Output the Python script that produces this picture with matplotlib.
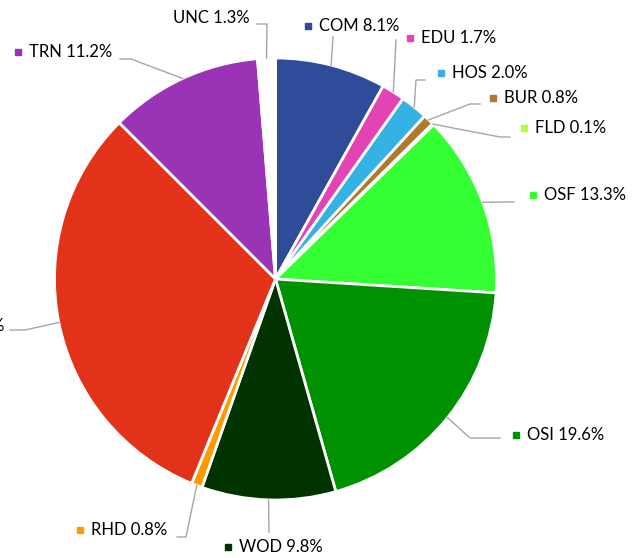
import matplotlib
matplotlib.use("Agg")
import matplotlib.pyplot as plt
import numpy as np

# data (clockwise from 12 o'clock)
codes = ["COM", "EDU", "HOS", "BUR", "FLD", "OSF", "OSI", "WOD", "RHD", "RES", "TRN", "UNC"]
shares = [8.1, 1.7, 2.0, 0.8, 0.1, 13.3, 19.6, 9.8, 0.8, 31.3, 11.2, 1.3]
colors = ["#2F4C9B", "#E443B4", "#33B2E3", "#B07A2E", "#B4FF33", "#33FF33",
          "#009100", "#003300", "#FF9A00", "#E2321A", "#9B33B6", "#FFFFFF"]

W, H = 640, 558
CX, CY, R = 275.5, 279, 221

# label layout in pixel coords: marker x, text y, leader elbow points
label_pos = {
    "COM": (308, 26, [(333, 37)]),
    "EDU": (410, 38, [(396, 40)]),
    "HOS": (441, 73, [(416, 80), (425, 80)]),
    "BUR": (493, 98, [(470, 104), (480, 104)]),
    "FLD": (524, 128, [(500, 137), (510, 137)]),
    "OSF": (533, 195, [(514, 202)]),
    "OSI": (516, 435, [(470, 438), (500, 438)]),
    "WOD": (228, 547, [(269, 532)]),
    "RHD": (80, 530, [(186, 537), (177, 537)]),
    "RES": (-86, 326, [(25, 330), (10, 330)]),
    "TRN": (18, 52, [(131, 59), (120, 59)]),
    "UNC": (None, 18, [(267, 24), (257, 24)]),
}

plt.rcParams["font.family"] = ["Lato", "DejaVu Sans"]
fig = plt.figure(figsize=(6.4, 5.58), dpi=100)
ax = fig.add_axes([0, 0, 1, 1])

wedges, _ = ax.pie(shares, colors=colors, startangle=90, counterclock=False,
                   center=(CX, H - CY), radius=R, frame=True,
                   wedgeprops=dict(edgecolor="white", linewidth=2))
ax.set_xlim(0, W)
ax.set_ylim(0, H)
ax.set_aspect("equal")
ax.axis("off")

line_col = "#A6A6A6"
fs = 12
for w, code, share, col in zip(wedges, codes, shares, colors):
    mid = np.deg2rad((w.theta1 + w.theta2) / 2)
    ex = CX + R * np.cos(mid)
    ey = (H - CY) + R * np.sin(mid)
    mx, ty, pts = label_pos[code]
    xs = [ex] + [p[0] for p in pts]
    ys = [ey] + [H - p[1] for p in pts]
    ax.plot(xs, ys, color=line_col, lw=1, clip_on=False)
    txt = f"{code} {share:.1f}%"
    if mx is None:
        ax.text(250, H - ty, txt, ha="right", va="center", fontsize=fs, color="black")
    else:
        ax.plot(mx, H - ty, marker="s", ms=5, color=col, mec=col, ls="none", clip_on=False)
        ax.text(mx + 11, H - ty, txt, ha="left", va="center", fontsize=fs, color="black")

fig.savefig("out.png", dpi=100)
